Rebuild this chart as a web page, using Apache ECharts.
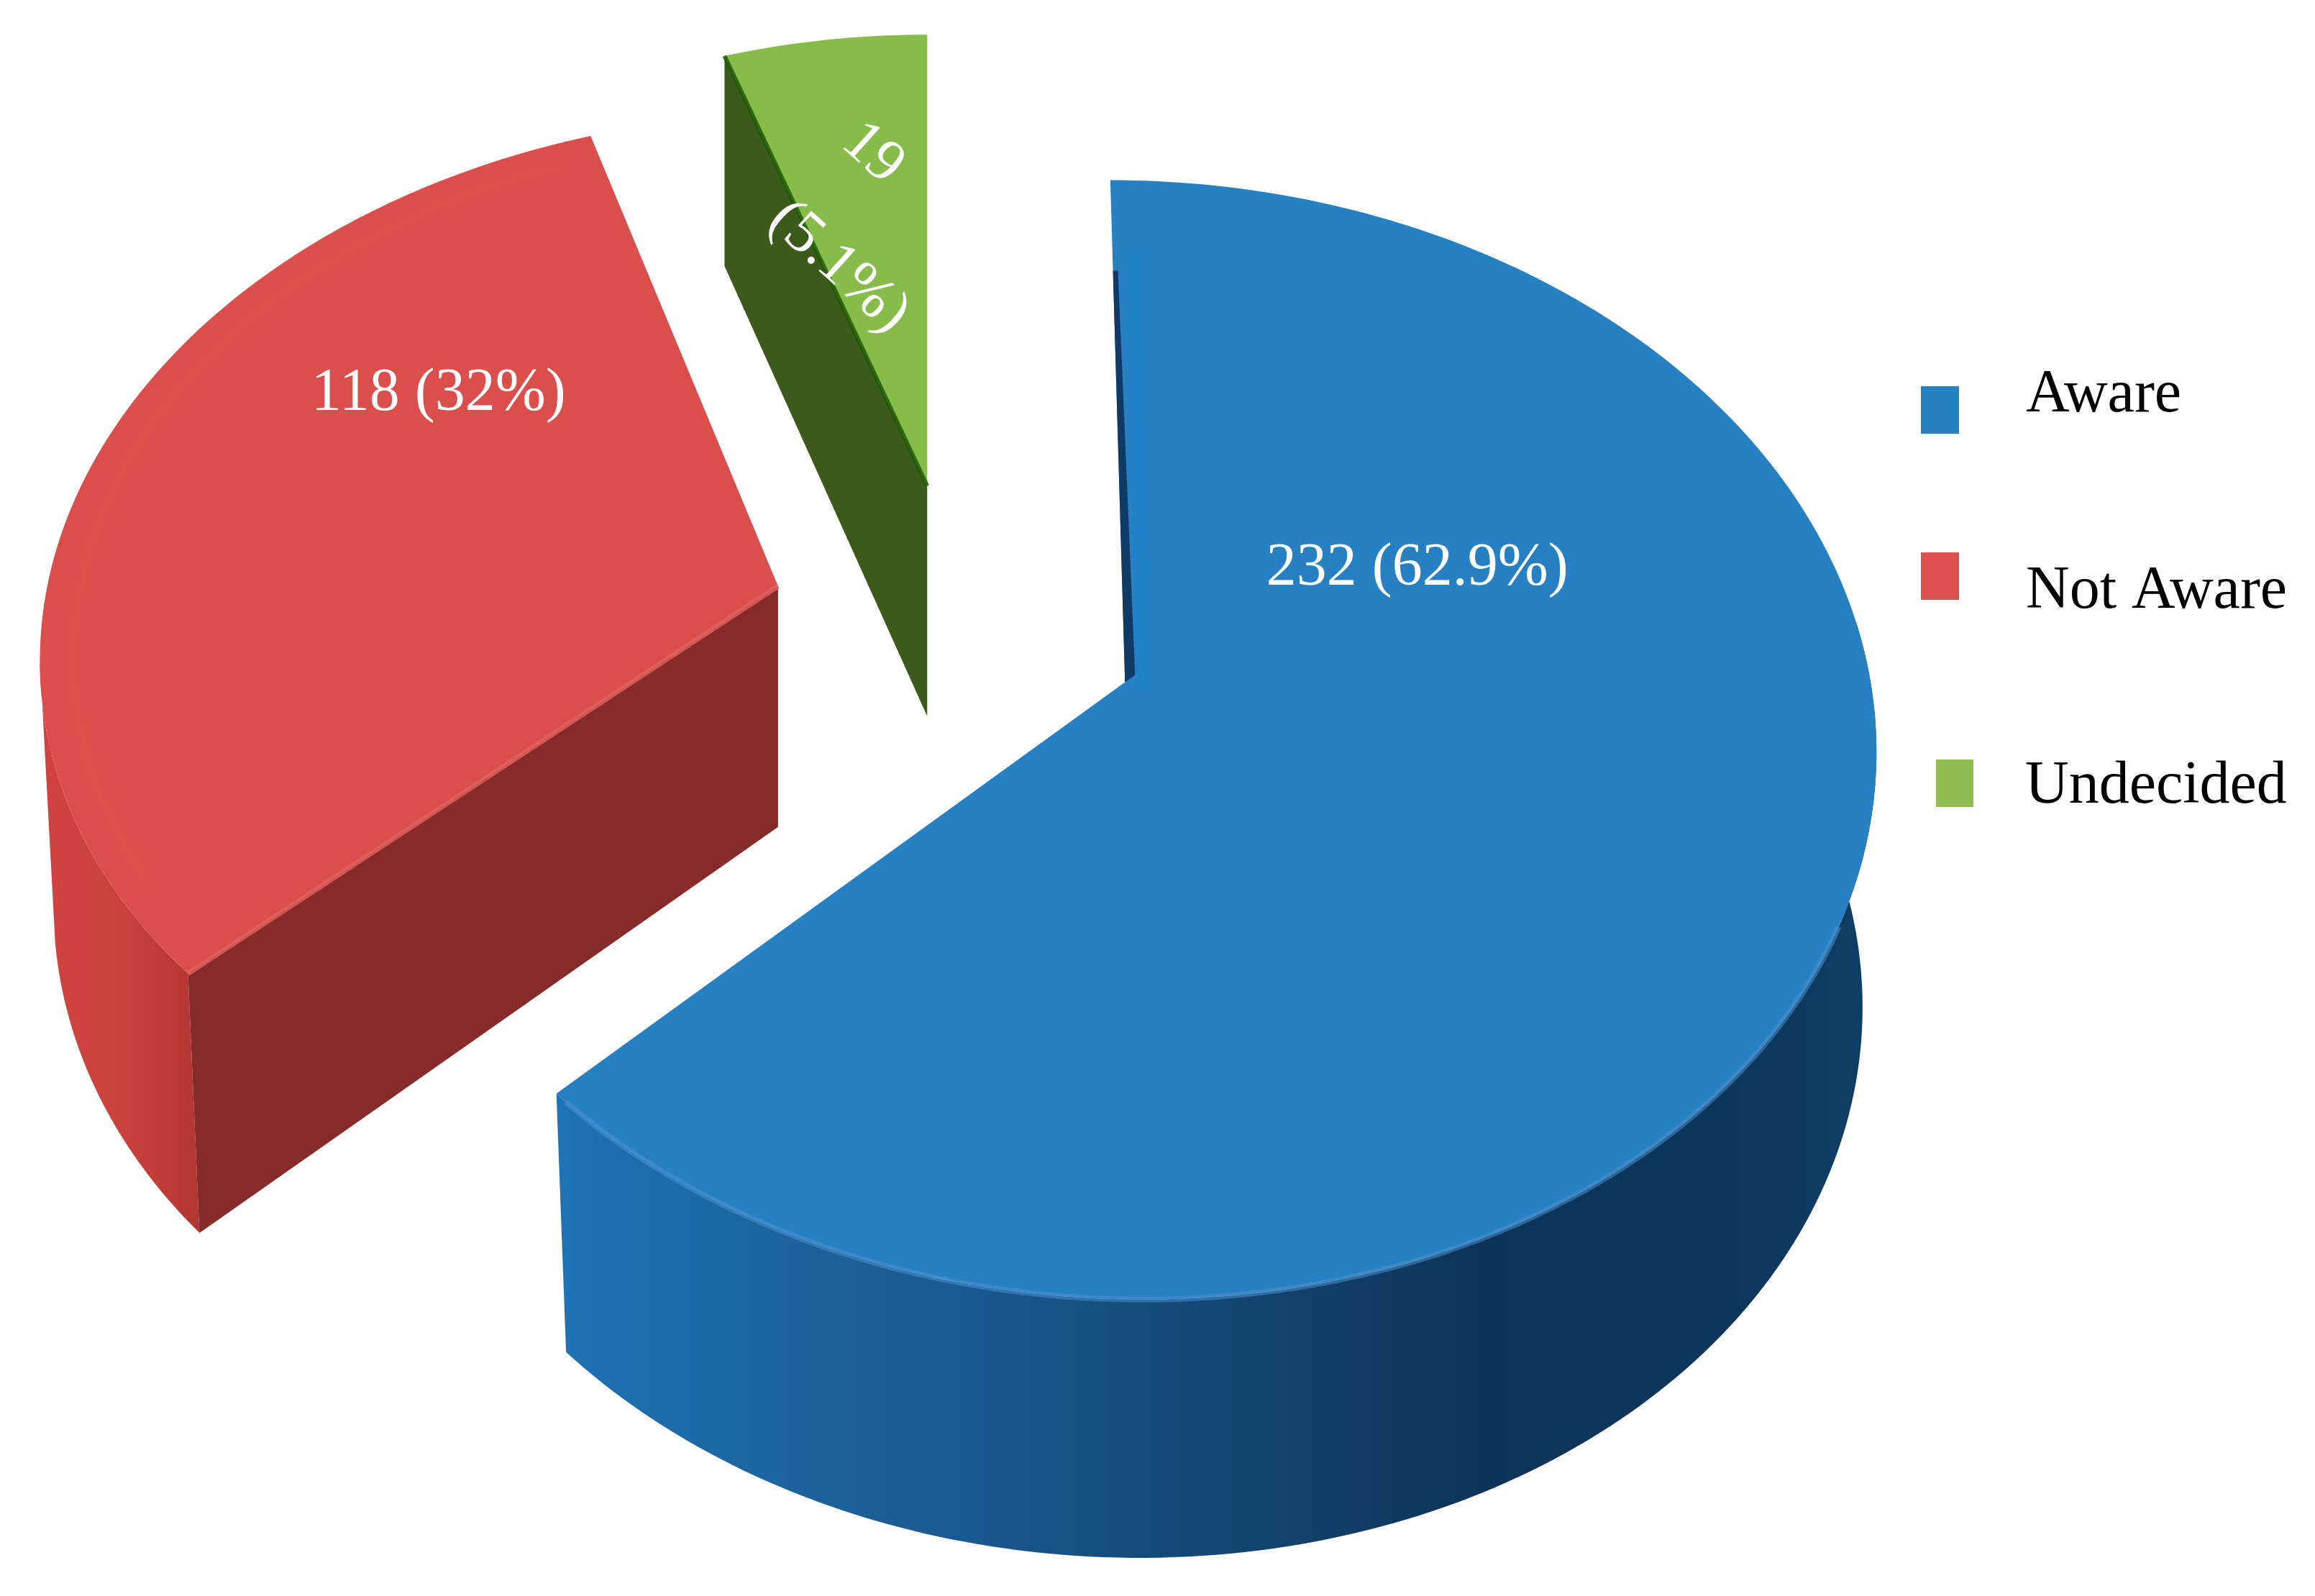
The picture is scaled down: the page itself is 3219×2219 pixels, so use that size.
<!DOCTYPE html>
<html>
<head>
<meta charset="utf-8">
<style>html,body{margin:0;padding:0;background:#fff}#c{width:3219px;height:2219px}</style>
<script src="https://cdn.jsdelivr.net/npm/echarts@6/dist/echarts.min.js"></script>
</head>
<body>
<div id="c"></div>
<script>
// ---- data ----
const categories = ['Aware', 'Not Aware', 'Undecided'];
const counts = [232, 118, 19];
const labelLines = [['232 (62.9%)'], ['118 (32%)'], ['19', '(5.1%)']];

// ---- styling and layout ----
const topColors = ['#2680c2', '#da4f4c', '#88bc4a'];
const legendColors = ['#2681c0', '#dd5050', '#8fbb50'];
const SCALE = 3219 / 1568;
const PERSPECTIVE = 0.103;
const FONT = 'Liberation Serif';
const FONT_SIZE = 84;
// slice geometry in the 1568-wide frame: apex, half-axes and shear of the top and the bottom disc
const discs = [
  {top: {ax: 762, ay: 462, A: 505, B: 375, S: 11},  low: {ax: 763, ay: 637, A: 495, B: 375, S: 8}},
  {top: {ax: 527, ay: 397, A: 495, B: 353, S: -19}, low: {ax: 527, ay: 560, A: 486, B: 370, S: -18}},
  {top: {ax: 628, ay: 329, A: 474, B: 337, S: 0},   low: {ax: 628, ay: 485, A: 474, B: 353, S: 0}}
];
const labelSpots = [
  [{x: 960, y: 385.5, r: 0}],
  [{x: 297, y: 267, r: 0}],
  [{x: 591, y: 104, r: -42}, {x: 568, y: 181, r: -42}]
];
// a legend key sits inside its item box so that it can be offset from the text centre
const legendSpots = [
  {left: 2671, top: 497, w: 53, box: 106, from: 40, to: 106, gap: 88},
  {left: 2671, top: 768, w: 53, box: 110, from: 0,  to: 66,  gap: 88},
  {left: 2692, top: 1052, w: 52, box: 76, from: 0,  to: 66,  gap: 67}
];
const legendIcon = s => `path://M0 0L0 0M0 ${s.box}L0 ${s.box}M0 ${s.from}L${s.w} ${s.from}L${s.w} ${s.to}L0 ${s.to}Z`;

const total = counts.reduce((a, b) => a + b, 0);
const sweepStart = i => counts.slice(0, i).reduce((a, b) => a + b, 0) / total * 360;

function project(d, deg, f) {
  const t = deg * Math.PI / 180, s = Math.sin(t), v = -Math.cos(t);
  const w = 1 - PERSPECTIVE * v, r = f === undefined ? 1 : f;
  return [
    (d.ax + r * (d.A * s / w + d.S * v / w)) * SCALE,
    (d.ay + r * d.B * v / w) * SCALE
  ];
}
function arc(d, from, to, f) {
  const n = Math.max(2, Math.ceil(Math.abs(to - from))), pts = [];
  for (let i = 0; i <= n; i++) pts.push(project(d, from + (to - from) * i / n, f));
  return pts;
}
const grad = stops => new echarts.graphic.LinearGradient(0, 0, 1, 0,
  stops.map(s => ({offset: s[0], color: s[1]})));
const poly = (points, fill, z2) => ({type: 'polygon', z2: z2 || 0, shape: {points}, style: {fill}});
const line = (points, stroke, width, opacity, z2) => ({type: 'polyline', z2: z2 || 5, shape: {points},
  style: {stroke, lineWidth: width, fill: 'none', opacity: opacity === undefined ? 1 : opacity}});

function extras(i, a, b) {
  const t = discs[i].top, l = discs[i].low, apex = project(t, 0, 0), apexLow = project(l, 0, 0);
  if (i === 0) {
    return [
      poly(arc(t, 84, b).concat(arc(l, b, 84)),
        grad([[0, '#1f72b4'], [0.1, '#1c6aa6'], [0.3, '#1a5a92'], [0.5, '#134673'],
          [0.7, '#0e3358'], [0.9, '#0d365c'], [1, '#0f3f66']]), 0)
    ];
  }
  if (i === 1) {
    const tip = project(t, a), tipLow = project(l, a);
    return [
      poly(arc(t, a, 262).concat(arc(l, 258, a)),
        grad([[0, '#cf4340'], [0.5, '#cb423d'], [1, '#b23632']]), 0),
      poly([apex, tip, tipLow, apexLow], '#862b29', 1)
    ];
  }
  const far = project(t, a), farLow = project(l, a);
  return [poly([apex, far, farLow, apexLow], '#3c5a1c', 1)];
}
function rims(i, a, b) {
  const t = discs[i].top, apex = project(t, 0, 0);
  if (i === 0) {
    const high = project(t, a, 0.82);
    return [
      line(arc(t, 115, b - 1), '#4a8fcf', 8, 0.55),
      line([[high[0] + 30, high[1] - 30], [apex[0] + 26, apex[1] + 12]], '#1c82cb', 20, 0.5),
      poly([high, apex, [apex[0] + 14, apex[1] - 10], [high[0] + 7, high[1]]], '#0f3a66', 6)
    ];
  }
  if (i === 1) {
    return [
      line(arc(t, a + 10, b - 4, 0.955), '#e6504a', 14, 0.35),
      line([apex, project(t, a)], '#e3605c', 7, 0.8)
    ];
  }
  return [line([project(t, a), apex], '#1f5a06', 6, 0.85)];
}

function renderSlice(i) {
  return function (params, api) {
    const a = sweepStart(i), b = a + api.value(0) / total * 360;
    const t = discs[i].top;
    const face = [project(t, 0, 0)].concat(arc(t, a, b));
    const children = extras(i, a, b).concat([poly(face, topColors[i], 4)], rims(i, a, b));
    labelLines[i].forEach((text, n) => {
      const p = labelSpots[i][n];
      children.push({
        type: 'text', z2: 10,
        x: p.x * SCALE, y: p.y * SCALE, rotation: p.r * Math.PI / 180,
        style: {text, x: 0, y: 0, fill: '#fff', font: FONT_SIZE + 'px "' + FONT + '"',
          align: 'center', verticalAlign: 'middle'}
      });
    });
    return {type: 'group', children};
  };
}

const chart = echarts.init(document.getElementById('c'), null, {renderer: 'canvas'});
chart.setOption({
  animation: false,
  backgroundColor: '#fff',
  legend: categories.map((name, i) => ({
    data: [{name, icon: legendIcon(legendSpots[i])}], orient: 'vertical', padding: 0, selectedMode: false,
    left: legendSpots[i].left, top: legendSpots[i].top,
    itemWidth: legendSpots[i].w, itemHeight: legendSpots[i].box,
    textStyle: {fontFamily: FONT, fontSize: FONT_SIZE, color: '#000', padding: [0, 0, 0, legendSpots[i].gap]}
  })),
  series: categories.map((name, i) => ({
    type: 'custom', name, coordinateSystem: 'none',
    itemStyle: {color: legendColors[i]},
    renderItem: renderSlice(i),
    data: [[counts[i]]]
  }))
});
</script>
</body>
</html>
